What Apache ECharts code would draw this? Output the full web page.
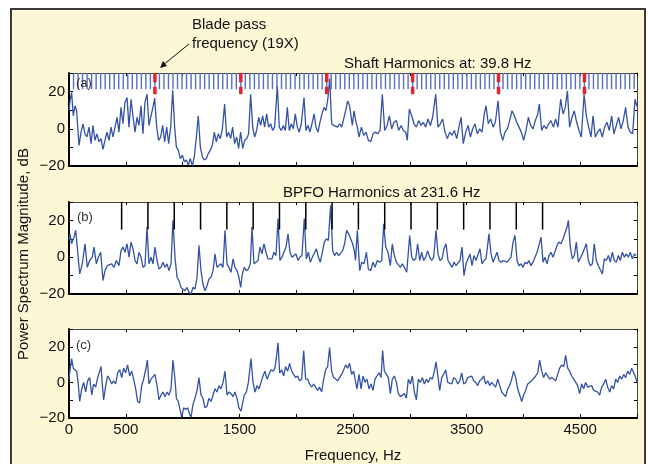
<!DOCTYPE html>
<html><head><meta charset="utf-8">
<script src="https://cdn.jsdelivr.net/npm/echarts@6/dist/echarts.min.js"></script>
<style>html,body{margin:0;padding:0;background:#fff}#c{width:648px;height:464px}</style>
</head><body><div id="c"></div>
<script>
// ---- data ----
const shaftHz = 39.8;
const bladeOrder = 19;
const bpfoHz = 231.6;
const bpfoOrders = [2,3,4,5,6,7,8,9,10,11,12,13,14,15,16,17,18];
const xLabelled = [0,500,1500,2500,3500,4500];
const yLabelled = [-20,0,20];
const panelTags = ['(a)','(b)','(c)'];

// (a) spectrum [Hz, dB]
const specA = [[0,9.7],[9,15],[23,19.5],[38,7],[53,12.4],[67,9.7],[88,-8.9],[106,-1.8],[123,2.7],[141,-2.7],[158,-4.4],[176,0.9],[194,-8],[211,1.8],[229,-6.2],[246,-2.7],[264,-7],[282,-5.3],[299,-11],[317,-6.2],[334,-1.8],[352,-6.2],[370,0.9],[387,-4.4],[405,0.9],[423,6.2],[440,-1.8],[458,11.5],[475,2.7],[493,14.2],[511,16.8],[528,0.9],[546,15.9],[563,7],[581,-1.8],[599,6.2],[616,1.8],[634,12.4],[651,-2.7],[669,14.2],[687,18.6],[704,1.8],[722,7],[739,11.5],[754,16.5],[772,0.9],[789,-6.2],[807,-4.4],[825,1.8],[842,-7],[860,0.9],[877,-8],[895,0.9],[913,20.7],[930,0.9],[945,-9.7],[962,-11.5],[980,-16],[998,-14.2],[1015,-17.7],[1033,-16.8],[1050,-19.5],[1068,-16],[1086,-20],[1103,-15],[1121,-4.4],[1138,7],[1156,-9.7],[1174,-15],[1191,-16.8],[1209,-16],[1226,-13.3],[1244,-11.5],[1262,-8.9],[1279,-1.8],[1297,-7],[1314,-2.7],[1332,-5.3],[1350,0],[1370,13.3],[1388,-4.4],[1405,-1.8],[1423,-5.3],[1440,0.9],[1458,-8],[1476,-4.4],[1493,-10.6],[1511,-1.8],[1529,-10.6],[1546,-6.2],[1564,-5.3],[1581,-2.7],[1599,18.6],[1617,0.9],[1634,-4.4],[1652,-0.9],[1670,6.2],[1687,1.8],[1705,7],[1722,0.9],[1740,8],[1757,0.9],[1775,2.7],[1793,-0.9],[1810,0.9],[1834,23],[1851,0.9],[1869,-0.9],[1887,1.8],[1904,-0.9],[1922,11.5],[1939,-0.9],[1957,2.7],[1975,0],[1992,8],[2010,0.9],[2027,-1.8],[2045,2.7],[2069,16.8],[2086,-0.9],[2104,1.8],[2121,-1.8],[2139,2.7],[2157,8],[2174,0.9],[2192,-1.8],[2209,3.5],[2227,8],[2245,11.5],[2262,9.7],[2280,16.8],[2295,27],[2312,2.7],[2330,1.8],[2347,1.8],[2365,0.9],[2383,2.7],[2400,0.9],[2418,5.3],[2435,9.7],[2453,15],[2470,12.4],[2494,1.8],[2509,9.7],[2524,4.4],[2538,0.9],[2553,-4.4],[2574,0.9],[2594,-3.5],[2615,-1.8],[2635,-6.2],[2656,-7],[2676,-2.7],[2697,-1.8],[2717,-2.7],[2738,-0.9],[2758,18.6],[2779,-0.9],[2800,1.8],[2820,7],[2841,0],[2861,3.5],[2882,4.4],[2902,-0.9],[2923,1.8],[2943,-0.9],[2964,-1.8],[2978,-6.2],[2996,10.6],[3017,7],[3037,2.7],[3058,0.9],[3078,4.4],[3099,1.8],[3119,3.5],[3140,0.9],[3160,5.3],[3181,1.8],[3201,6.2],[3228,18.6],[3248,0.9],[3269,2.7],[3289,5.3],[3310,-1.8],[3331,-5.3],[3351,-1.8],[3372,-3.5],[3392,-0.9],[3413,-5.3],[3433,0.9],[3451,6.2],[3471,-8],[3492,-1.8],[3513,1.8],[3533,-4.4],[3554,0],[3574,2.7],[3595,-2.7],[3615,0],[3636,-1.8],[3656,8],[3671,12.4],[3691,2.7],[3712,5.3],[3733,0.9],[3753,3.5],[3777,15],[3797,-1.8],[3818,-6.2],[3838,-1.8],[3859,0],[3879,4.4],[3900,9.7],[3920,7],[3941,3.5],[3961,0.9],[3982,-1.8],[4002,-6.2],[4023,-0.9],[4044,6.2],[4064,1.8],[4085,0],[4105,4.4],[4126,8],[4140,13.3],[4161,-0.9],[4181,1.8],[4202,0],[4222,2.7],[4243,4.4],[4264,0.9],[4284,5.3],[4304,0.9],[4328,15.9],[4349,8],[4369,11.5],[4387,20.4],[4407,0.9],[4428,6.2],[4448,9.7],[4469,3.5],[4490,-0.9],[4510,-4.4],[4534,18.6],[4554,7],[4575,0.9],[4595,-4.4],[4613,7],[4633,-4.4],[4654,-1.8],[4674,0],[4695,-4.4],[4715,0.9],[4736,3.5],[4756,-0.9],[4777,7],[4797,-2.7],[4818,1.8],[4838,6.2],[4859,0],[4879,4.4],[4900,11.5],[4921,0.9],[4941,-1.8],[4962,-2.7],[4982,15.9],[5000,12]];

// (b) spectrum [Hz, dB]
const specB = [[0,9.1],[9,12.7],[23,7.3],[44,10.9],[59,14.6],[73,5.5],[94,-9.1],[117,-3.6],[141,7.3],[161,-5.5],[182,-1.8],[205,0],[220,5.5],[241,-3.6],[258,0],[279,2.7],[299,-12.7],[317,-7.3],[337,-4.6],[352,-5.5],[376,-3.6],[396,-5.5],[417,-1.8],[440,-4.6],[458,3.6],[475,5.5],[493,2.7],[511,7.3],[528,0],[546,8.2],[563,4.6],[581,-1.8],[599,-3.6],[616,2.7],[634,0],[651,-5.5],[669,-4.6],[687,16.4],[704,-3.6],[722,0],[739,-3.6],[757,5.5],[775,-1.8],[792,-6.4],[810,-5.5],[827,-2.7],[845,-5.5],[863,-3.6],[880,-7.3],[898,-3.6],[915,20],[933,0],[951,-10.9],[968,-12.7],[986,-16.4],[1003,-16.4],[1021,-18.2],[1039,-16.4],[1056,-19.1],[1074,-20],[1091,-16.4],[1109,-17.3],[1127,-10.9],[1144,6.4],[1162,-7.3],[1179,-14.6],[1197,-18.2],[1215,-15.5],[1232,-11.8],[1250,-10.9],[1268,-7.3],[1285,1.8],[1303,-5.5],[1320,-6.4],[1338,-3.6],[1356,-5.5],[1373,14.6],[1391,-3.6],[1408,-5.5],[1426,-8.2],[1444,-0.9],[1461,-5.5],[1479,-7.3],[1496,-10.9],[1511,-16.4],[1526,-9.1],[1543,-5.5],[1561,-7.3],[1579,-6.4],[1596,-3.6],[1611,16.4],[1628,-3.6],[1646,-2.7],[1664,-1.8],[1681,5.5],[1699,1.8],[1716,7.3],[1734,2.7],[1752,-0.9],[1769,0],[1787,-0.9],[1804,2.7],[1822,0.9],[1840,21],[1857,-1.8],[1875,0],[1892,2.7],[1910,5.5],[1928,12.7],[1945,2.7],[1963,0],[1980,0.9],[1998,1.8],[2016,-1.8],[2033,0],[2051,0.9],[2071,21],[2089,-0.9],[2107,2.7],[2124,-2.7],[2142,0],[2159,0.9],[2177,4.6],[2195,0],[2212,-2.7],[2230,2.7],[2248,8.2],[2265,10],[2283,9.1],[2303,28.2],[2321,3.6],[2338,0.9],[2356,2.7],[2374,0.9],[2391,1.8],[2409,3.6],[2426,7.3],[2444,14.6],[2462,12.7],[2479,10],[2497,7.3],[2514,2.7],[2522,-1.8],[2538,14.6],[2559,-7.3],[2577,-2.7],[2597,-3.6],[2618,2.7],[2635,-6.4],[2656,-7.3],[2676,-2.7],[2694,-5.5],[2714,-1.8],[2735,-2.7],[2753,-1.8],[2770,18.2],[2788,5.5],[2808,2.7],[2829,-4.6],[2846,7.3],[2864,0.9],[2882,-2.7],[2899,-1.8],[2917,-5.5],[2934,-3.6],[2952,-5.5],[2973,-8.2],[2999,11.8],[3017,0],[3034,-1.8],[3052,-0.9],[3069,7.3],[3087,-1.8],[3105,2.7],[3122,-1.8],[3140,0],[3157,3.6],[3175,0],[3193,-1.8],[3210,0],[3231,14.6],[3248,1.8],[3266,-1.8],[3284,-0.9],[3301,4.6],[3319,7.3],[3336,-1.8],[3354,-3.6],[3372,-5.5],[3389,-2.7],[3407,-4.6],[3424,-3.6],[3442,-1.8],[3460,5.5],[3477,-10],[3495,-3.6],[3512,-3.6],[3530,1.8],[3548,-4.6],[3565,0.9],[3583,-1.8],[3600,-2.7],[3618,4.6],[3636,-3.6],[3653,-1.8],[3671,-0.9],[3697,12.7],[3715,1.8],[3733,-2.7],[3750,-1.8],[3768,2.7],[3785,-1.8],[3803,-2.7],[3821,-1.8],[3838,-2.7],[3856,-2.7],[3873,-3.6],[3891,0],[3909,8.2],[3926,11.8],[3944,-1.8],[3961,-4.6],[3979,-3.6],[3997,-5.5],[4014,-2.7],[4032,-3.6],[4049,-1.8],[4067,-4.6],[4085,-2.7],[4102,0],[4120,2.7],[4137,6.4],[4155,10.9],[4173,-2.7],[4190,0],[4208,-3.6],[4225,0.9],[4243,2.7],[4261,0],[4278,-0.9],[4296,6.4],[4313,8.2],[4331,7.3],[4349,10],[4366,9.1],[4384,16.4],[4396,20],[4413,5.5],[4431,-0.9],[4448,0.9],[4466,8.2],[4484,-2.7],[4501,-1.8],[4519,1.8],[4536,0.9],[4554,7.3],[4572,-1.8],[4589,-4.6],[4607,-3.6],[4624,7.3],[4642,-1.8],[4660,-4.6],[4677,-5.5],[4695,-9.1],[4712,-0.9],[4730,-1.8],[4748,0.9],[4765,-2.7],[4783,2.7],[4800,-1.8],[4818,-2.7],[4836,0.9],[4853,-1.8],[4871,2.7],[4889,0],[4906,1.8],[4924,0],[4941,2.7],[4959,-0.9],[4977,1.8],[4994,0.9]];

// (c) spectrum [Hz, dB]
const specC = [[0,1.8],[9,7.1],[23,13.4],[38,8],[53,8.9],[67,6.3],[82,-0.9],[94,-10.7],[112,-3.6],[129,0],[147,-5.4],[164,0.9],[182,2.7],[200,-7.1],[217,-0.9],[235,-2.7],[252,2.7],[270,6.3],[282,8.9],[293,-0.9],[305,-9.8],[323,-1.8],[340,3.6],[358,1.8],[376,-0.9],[393,0.9],[411,-0.9],[428,5.4],[446,7.1],[464,2.7],[481,8],[499,5.4],[516,9.8],[534,3.6],[552,6.3],[569,1.8],[587,-3.6],[604,-10.7],[622,-11.6],[640,-1.8],[657,1.8],[675,7.1],[690,12.5],[704,-0.9],[722,1.8],[739,2.7],[757,4.5],[775,-1.8],[792,-9.8],[810,-7.1],[827,-5.4],[845,-8],[863,-5.4],[880,-7.1],[898,-3.6],[915,12.5],[933,1.8],[945,-8.9],[962,-10.7],[980,-16.1],[992,-19.6],[1009,-14.3],[1027,-15.2],[1045,-14.3],[1062,-17.9],[1074,-19.6],[1091,-12.5],[1109,-8.9],[1127,-4.5],[1144,2.7],[1162,-7.1],[1179,-8.9],[1197,-14.3],[1215,-13.4],[1232,-8.9],[1250,-10.7],[1268,-7.1],[1285,-3.6],[1303,-5.4],[1320,-1.8],[1338,-3.6],[1356,0],[1373,6.3],[1391,-7.1],[1408,-5.4],[1426,-6.3],[1444,-8],[1461,-5.4],[1479,-8.9],[1496,-14.3],[1514,-16.1],[1526,-12.5],[1543,-7.1],[1561,-5.4],[1579,0],[1602,13.4],[1620,0],[1637,-5.4],[1655,-1.8],[1672,-3.6],[1690,0],[1708,3.6],[1725,6.3],[1743,1.8],[1760,4.5],[1778,7.1],[1796,6.3],[1813,8],[1831,17],[1840,22.3],[1854,5.4],[1872,7.1],[1890,3.6],[1907,8.9],[1925,6.3],[1942,10.7],[1960,6.3],[1977,5.4],[1995,2.7],[2013,3.6],[2030,0.9],[2048,1.8],[2066,17.9],[2083,1.8],[2101,1.8],[2118,-0.9],[2136,-2.7],[2154,-0.9],[2171,-1.8],[2189,-4.5],[2206,-2.7],[2224,-5.4],[2242,1.8],[2259,7.1],[2277,8.9],[2294,19.6],[2312,6.3],[2330,2.7],[2347,1.8],[2365,0.9],[2382,2.7],[2400,4.5],[2418,7.1],[2435,9.8],[2453,8],[2470,10.7],[2488,4.5],[2506,6.3],[2518,1.8],[2535,-3.6],[2553,4.5],[2571,-3.6],[2588,3.6],[2606,0],[2623,1.8],[2641,-3.6],[2659,-0.9],[2676,-4.5],[2694,1.8],[2711,3.6],[2729,5.4],[2747,2.7],[2761,17.9],[2776,6.3],[2794,4.5],[2811,2.7],[2829,-6.3],[2846,1.8],[2864,3.6],[2882,0],[2899,-6.3],[2917,-8],[2934,-7.1],[2952,-6.3],[2970,-8.9],[2987,1.8],[3005,-0.9],[3022,3.6],[3040,-5.4],[3058,-9.8],[3075,1.8],[3093,0],[3111,2.7],[3128,-0.9],[3146,1.8],[3163,0],[3181,2.7],[3199,1.8],[3216,6.3],[3231,11.6],[3245,4.5],[3263,-4.5],[3281,2.7],[3298,4.5],[3316,7.1],[3334,0],[3351,0.9],[3369,-0.9],[3386,2.7],[3404,1.8],[3422,-0.9],[3439,0.9],[3457,5.4],[3474,-0.9],[3492,0],[3510,2.7],[3527,1.8],[3545,3.6],[3562,0.9],[3580,0],[3598,-1.8],[3615,0.9],[3633,1.8],[3650,3.6],[3668,-0.9],[3686,0.9],[3703,-1.8],[3721,0],[3738,-0.9],[3756,-2.7],[3774,1.8],[3791,-1.8],[3809,-5.4],[3826,-6.3],[3844,-8],[3862,-3.6],[3879,-1.8],[3897,1.8],[3914,6.3],[3932,2.7],[3950,-3.6],[3967,-7.1],[3985,-10.7],[4002,-7.1],[4020,-4.5],[4038,-0.9],[4055,-0.9],[4073,0.9],[4090,0],[4108,3.6],[4126,5.4],[4143,12.5],[4161,6.3],[4178,2.7],[4196,5.4],[4214,3.6],[4231,1.8],[4249,2.7],[4266,1.8],[4284,0.9],[4302,4.5],[4319,8],[4337,9.8],[4355,8.9],[4372,15.2],[4390,8],[4407,6.3],[4425,3.6],[4443,1.8],[4460,0.9],[4478,-1.8],[4495,-6.3],[4513,-0.9],[4531,-3.6],[4548,0],[4566,-2.7],[4583,-3.6],[4601,-1.8],[4619,-4.5],[4636,-3.6],[4654,-5.4],[4671,-7.1],[4689,-2.7],[4707,-0.9],[4724,1.8],[4742,-2.7],[4760,-5.4],[4777,-1.8],[4795,-3.6],[4812,1.8],[4830,0],[4848,3.6],[4865,1.8],[4883,4.5],[4900,2.7],[4918,6.3],[4936,4.5],[4953,8],[4971,5.4],[4988,2.7],[5000,0]];

// ---- derived harmonic positions ----
const shaftLines = [];
for (let k = 1; k * shaftHz < 5000; k++) shaftLines.push([k * shaftHz]);
const bladeLines = [];
for (let k = 1; k * bladeOrder * shaftHz < 5000; k++) bladeLines.push([k * bladeOrder * shaftHz]);
const bpfoLines = bpfoOrders.map(k => [k * bpfoHz]);

// ---- chart ----
const FONT = 'Liberation Sans, Arial, Helvetica, sans-serif';
const chart = echarts.init(document.getElementById('c'), null, {renderer: 'canvas'});
const grids = [
  {left: 69, width: 568, top: 73, height: 93},
  {left: 69, width: 568, top: 202, height: 92},
  {left: 69, width: 568, top: 329, height: 93}
];
const xAxes = [], yAxes = [];
grids.forEach((g, i) => {
  xAxes.push({
    type: 'value', gridIndex: i, min: 0, max: 5000, interval: 500, position: 'bottom',
    axisLine: {show: true, onZero: false, lineStyle: {color: '#000', width: 2}},
    axisTick: {show: true, inside: true, length: 4, lineStyle: {color: '#000', width: 1}},
    axisLabel: {show: i === 2, color: '#111', fontSize: 15, fontFamily: FONT, margin: 4,
      formatter: v => xLabelled.indexOf(v) >= 0 ? String(v) : ''},
    splitLine: {show: false},
    name: i === 2 ? 'Frequency, Hz' : '', nameLocation: 'middle', nameGap: 30,
    nameTextStyle: {color: '#111', fontSize: 15, fontFamily: FONT}
  });
  xAxes.push({
    type: 'value', gridIndex: i, min: 0, max: 5000, interval: 500, position: 'top',
    axisLine: {show: true, onZero: false, lineStyle: {color: '#444', width: 1}},
    axisTick: {show: true, inside: true, length: 3, lineStyle: {color: '#000', width: 1}},
    axisLabel: {show: false}, splitLine: {show: false}
  });
  yAxes.push({
    type: 'value', gridIndex: i, min: -20, max: 30, interval: 10, position: 'left',
    axisLine: {show: true, onZero: false, lineStyle: {color: '#000', width: 2}},
    axisTick: {show: true, inside: true, length: 4, lineStyle: {color: '#000', width: 1}},
    axisLabel: {show: true, color: '#111', fontSize: 15, fontFamily: FONT, margin: 4,
      formatter: v => yLabelled.indexOf(v) >= 0 ? String(v).replace('-', '\u2212') : ''},
    splitLine: {show: false}
  });
  yAxes.push({
    type: 'value', gridIndex: i, min: -20, max: 30, interval: 10, position: 'right',
    axisLine: {show: true, onZero: false, lineStyle: {color: '#444', width: 1}},
    axisTick: {show: true, inside: true, length: 3, lineStyle: {color: '#000', width: 1}},
    axisLabel: {show: false}, splitLine: {show: false}
  });
});

function segRender(y0, y1, color, width) {
  return function (params, api) {
    const f = api.value(0);
    const p0 = api.coord([f, y0]);
    const p1 = api.coord([f, y1]);
    return {type: 'line', shape: {x1: p0[0], y1: p0[1], x2: p1[0], y2: p1[1]},
      style: {stroke: color, lineWidth: width}};
  };
}
function redRender(params, api) {
  const f = api.value(0);
  const a0 = api.coord([f, 30]), a1 = api.coord([f, 25]);
  const b0 = api.coord([f, 22.6]), b1 = api.coord([f, 18.6]);
  const st = {stroke: '#e8232b', lineWidth: 3.5};
  return {type: 'group', children: [
    {type: 'line', shape: {x1: a0[0], y1: a0[1], x2: a1[0], y2: a1[1]}, style: st},
    {type: 'line', shape: {x1: b0[0], y1: b0[1], x2: b1[0], y2: b1[1]}, style: st}
  ]};
}

const lineStyle = {color: '#3452a8', width: 1.3};
const series = [
  {type: 'line', xAxisIndex: 0, yAxisIndex: 0, data: specA, showSymbol: false, symbol: 'none', lineStyle, clip: true, z: 3},
  {type: 'line', xAxisIndex: 2, yAxisIndex: 2, data: specB, showSymbol: false, symbol: 'none', lineStyle, clip: true, z: 3},
  {type: 'line', xAxisIndex: 4, yAxisIndex: 4, data: specC, showSymbol: false, symbol: 'none', lineStyle, clip: true, z: 3},
  {type: 'custom', xAxisIndex: 0, yAxisIndex: 0, data: shaftLines, encode: {x: 0},
    renderItem: segRender(30, 21.3, '#5470c0', 1.4), z: 4},
  {type: 'custom', xAxisIndex: 0, yAxisIndex: 0, data: bladeLines, encode: {x: 0},
    renderItem: redRender, z: 5},
  {type: 'custom', xAxisIndex: 2, yAxisIndex: 2, data: bpfoLines, encode: {x: 0},
    renderItem: segRender(30, 15, '#000', 1.5), z: 4}
];

const graphic = [
  {type: 'rect', z: -10, shape: {x: 11, y: 9, width: 634, height: 470},
    style: {fill: '#fdf7d6', stroke: '#3a3a3a', lineWidth: 2}},
  {type: 'text', z: 100, x: 192, y: 25, style: {text: 'Blade pass', font: '15px ' + FONT, fill: '#111', textVerticalAlign: 'middle'}},
  {type: 'text', z: 100, x: 192, y: 44, style: {text: 'frequency (19X)', font: '15px ' + FONT, fill: '#111', textVerticalAlign: 'middle'}},
  {type: 'line', z: 100, shape: {x1: 189, y1: 44, x2: 163, y2: 65}, style: {stroke: '#111', lineWidth: 1}},
  {type: 'polygon', z: 100, shape: {points: [[160, 68], [163, 61], [167, 66]]}, style: {fill: '#111'}},
  {type: 'text', z: 100, x: 344, y: 64, style: {text: 'Shaft Harmonics at: 39.8 Hz', font: '15px ' + FONT, fill: '#111', textVerticalAlign: 'middle'}},
  {type: 'text', z: 100, x: 283, y: 193, style: {text: 'BPFO Harmonics at 231.6 Hz', font: '15px ' + FONT, fill: '#111', textVerticalAlign: 'middle'}},
  {type: 'text', z: 100, x: 24, y: 254, rotation: Math.PI / 2,
    style: {text: 'Power Spectrum Magnitude, dB', font: '15px ' + FONT, fill: '#111', textAlign: 'center', textVerticalAlign: 'middle'}},
  {type: 'text', z: 100, x: 76, y: 83, style: {text: panelTags[0], font: '13px ' + FONT, fill: '#333', textVerticalAlign: 'middle'}},
  {type: 'text', z: 100, x: 77, y: 217, style: {text: panelTags[1], font: '13px ' + FONT, fill: '#333', textVerticalAlign: 'middle'}},
  {type: 'text', z: 100, x: 76, y: 345, style: {text: panelTags[2], font: '13px ' + FONT, fill: '#333', textVerticalAlign: 'middle'}}
];

chart.setOption({
  animation: false,
  backgroundColor: '#ffffff',
  grid: grids.map(g => Object.assign({show: true, backgroundColor: '#fff', borderWidth: 0}, g)),
  xAxis: xAxes,
  yAxis: yAxes,
  series,
  graphic
});
</script>
</body></html>
